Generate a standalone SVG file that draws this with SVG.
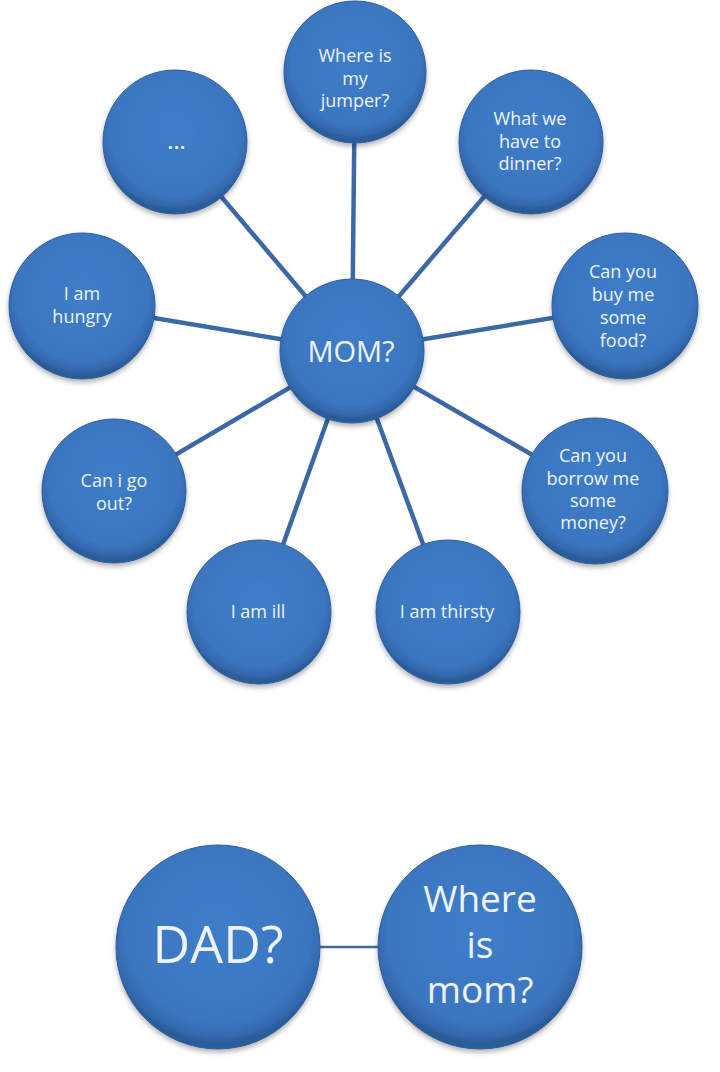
<svg xmlns="http://www.w3.org/2000/svg" width="720" height="1072" viewBox="0 0 720 1072">
<defs>
<radialGradient id="g" cx="50%" cy="42%" r="55%">
<stop offset="0" stop-color="#3f7dc8"/>
<stop offset="0.82" stop-color="#3b76c0"/>
<stop offset="0.95" stop-color="#3368ad"/>
<stop offset="1" stop-color="#2b5b98"/>
</radialGradient>
<filter id="sh" x="-20%" y="-20%" width="140%" height="150%">
<feDropShadow dx="0" dy="3" stdDeviation="2.5" flood-color="#000" flood-opacity="0.3"/>
</filter>
</defs>
<style>
.n{fill:url(#g);stroke:#2e5e9c;stroke-width:1;filter:url(#sh)}
.t{font-family:"Open Sans","Liberation Sans",sans-serif;fill:#eef3fa;text-anchor:middle;font-size:18px}
.c line{stroke:#3c69a6;stroke-width:4.5}
</style>
<rect width="720" height="1072" fill="#fff"/>
<g class="c" id="connectors">
<line x1="352" y1="351" x2="355" y2="72"/>
<line x1="352" y1="351" x2="531" y2="142"/>
<line x1="352" y1="351" x2="625" y2="306"/>
<line x1="352" y1="351" x2="595" y2="491"/>
<line x1="352" y1="351" x2="448" y2="612"/>
<line x1="352" y1="351" x2="259" y2="612"/>
<line x1="352" y1="351" x2="114" y2="491"/>
<line x1="352" y1="351" x2="82" y2="306"/>
<line x1="352" y1="351" x2="175" y2="142"/>
<line x1="218" y1="947" x2="480" y2="947" style="stroke-width:2.5"/>
</g>
<g id="n-jumper"><circle class="n" cx="355" cy="72" r="71"/><text class="t"><tspan x="355" y="62">Where is</tspan><tspan x="355" y="85">my</tspan><tspan x="355" y="107">jumper?</tspan></text></g>
<g id="n-dinner"><circle class="n" cx="531" cy="142" r="72"/><text class="t"><tspan x="530" y="125">What we</tspan><tspan x="530" y="148">have to</tspan><tspan x="530" y="170">dinner?</tspan></text></g>
<g id="n-food"><circle class="n" cx="625" cy="306" r="73"/><text class="t"><tspan x="623" y="278">Can you</tspan><tspan x="623" y="301">buy me</tspan><tspan x="623" y="324">some</tspan><tspan x="623" y="347">food?</tspan></text></g>
<g id="n-borrow"><circle class="n" cx="595" cy="491" r="73"/><text class="t"><tspan x="593" y="462">Can you</tspan><tspan x="593" y="485">borrow  me</tspan><tspan x="593" y="507">some</tspan><tspan x="593" y="529">money?</tspan></text></g>
<g id="n-thirsty"><circle class="n" cx="448" cy="612" r="72"/><text class="t" x="447" y="618">I am thirsty</text></g>
<g id="n-ill"><circle class="n" cx="259" cy="612" r="72"/><text class="t" x="258" y="618">I am ill</text></g>
<g id="n-goout"><circle class="n" cx="114" cy="491" r="72"/><text class="t"><tspan x="114" y="487">Can i go</tspan><tspan x="114" y="510">out?</tspan></text></g>
<g id="n-hungry"><circle class="n" cx="82" cy="306" r="73"/><text class="t"><tspan x="82" y="300">I am</tspan><tspan x="82" y="323">hungry</tspan></text></g>
<g id="n-dots"><circle class="n" cx="175" cy="142" r="72"/><text class="t" x="177" y="149" style="font-weight:bold;letter-spacing:1px">...</text></g>
<g id="n-mom"><circle class="n" cx="352" cy="351" r="72"/><text class="t" x="351" y="362" style="font-size:29px">MOM?</text></g>
<g id="n-dad"><circle class="n" cx="218" cy="947" r="102"/><text class="t" x="218" y="963" style="font-size:52px">DAD?</text></g>
<g id="n-wheremom"><circle class="n" cx="480" cy="947" r="102"/><text class="t" style="font-size:37px"><tspan x="480" y="912">Where</tspan><tspan x="480" y="958">is</tspan><tspan x="480" y="1003">mom?</tspan></text></g>
</svg>
